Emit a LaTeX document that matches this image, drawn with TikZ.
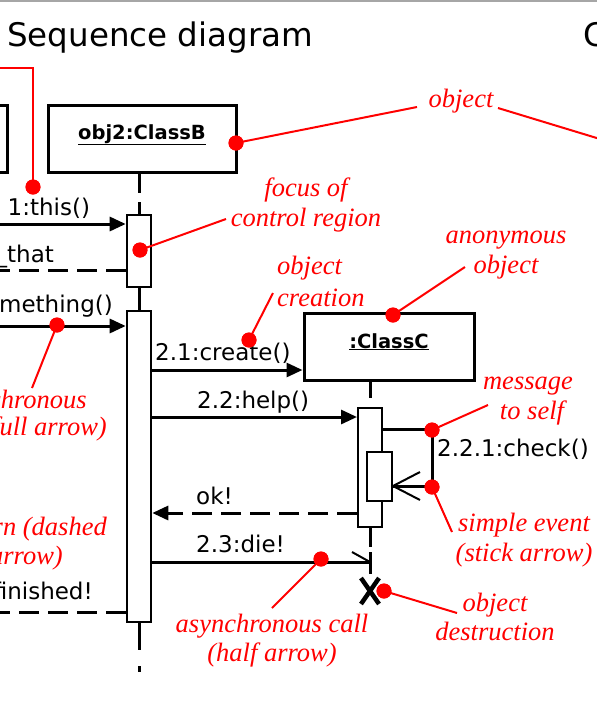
\documentclass[tikz,border=0pt]{standalone}
\usepackage{fontspec}
\setmainfont{Liberation Serif}
\newfontfamily\sansf{DejaVu Sans}
\usetikzlibrary{arrows.meta,calc}
\begin{document}
\begin{tikzpicture}[x=1pt,y=-1pt,
  lbl/.style={font=\sansf\fontsize{23}{23}\selectfont, inner sep=0pt},
  boxlbl/.style={font=\sansf\bfseries\fontsize{19.5}{20}\selectfont, inner sep=0pt},
  titlef/.style={font=\sansf\fontsize{32.5}{33}\selectfont, inner sep=0pt},
  note/.style={font=\itshape\fontsize{26.5}{30}\selectfont, text=red, inner sep=0pt},
  blk/.style={line width=3pt},
  objbox/.style={draw, line width=3pt, fill=white, inner sep=0pt},
  actbox/.style={draw, line width=2.6pt, fill=white, inner sep=0pt, minimum width=24pt},
  actthin/.style={draw, line width=2pt, fill=white, inner sep=0pt},
  ann/.style={red, line width=2pt},
  rdot/.style={circle, fill=red, minimum size=15pt, inner sep=0pt},
  call/.style={blk, -{Triangle[length=16pt,width=14pt]}},
  ret/.style={blk, dash pattern=on 20pt off 9pt},
  life/.style={line width=3pt}
]
\clip (0,0) rectangle (597,716);
\fill[white] (0,0) rectangle (597,716);
\draw[gray!70, line width=2pt] (0,1) -- (597,1);

% title
\node[titlef, anchor=base west] (title) at (7,46) {Sequence diagram};
\node[titlef, anchor=base west] (title2) at (583,46) {C};

% left object box (cut)
\draw[blk] (-10,105) -- (7,105) -- (7,172) -- (-10,172);

% objects
\node[objbox, minimum width=188pt, minimum height=67pt] (B) at (142,138.5) {};
\node[boxlbl, anchor=base] (Blbl) at (142,139) {\underline{obj2:ClassB}};

% lifeline obj2
\draw[life] (139,172) -- (139,193);
\draw[life] (139,202) -- (139,216);
\draw[life] (139,286) -- (139,312);
\draw[life] (139,621) -- (139,650);
\draw[life] (139,666) -- (139,672);

% activation boxes obj2
\node[actbox, minimum height=72pt] (A1) at (139,251) {};
\node[actbox, minimum height=311pt] (A2) at (139,466.5) {};

% ClassC
\node[objbox, minimum width=170pt, minimum height=67pt] (C) at (389,346.5) {};
\node[boxlbl, anchor=base] (Clbl) at (389,348) {\underline{:ClassC}};
\draw[life] (370,380) -- (370,398);
\draw[life] (370,526) -- (370,547);
\draw[life] (370,552) -- (370,574);
\node[actthin, minimum width=24pt, minimum height=119pt] (A3) at (370,467.5) {};
\node[actthin, minimum width=25pt, minimum height=49pt] (A4) at (379.5,476.5) {};

% destruction X
\coordinate (Xc) at (370,591);
\draw[line width=4.5pt] ($(Xc)+(-9,-13)$) -- ($(Xc)+(9,13)$);
\draw[line width=4.5pt] ($(Xc)+(9,-13)$) -- ($(Xc)+(-9,13)$);

% message coordinates
\coordinate (m1) at (-5,224);
\coordinate (m2) at (-5,270);
\coordinate (m3) at (-5,326);
\coordinate (m4) at (0,370);
\coordinate (m5) at (0,417);
\coordinate (m6) at (0,429);
\coordinate (m6a) at (432,429);
\coordinate (m6b) at (432,486);
\coordinate (m7) at (0,513);
\coordinate (m8) at (0,562);
\coordinate (m8e) at (370,562);
\coordinate (m9) at (-5,612);

\draw[call] (m1) -- (A1.west |- m1);
\draw[ret] (A1.west |- m2) -- (m2);
\draw[call] (m3) -- (A2.west |- m3);
\draw[call] (A2.east |- m4) -- (C.west |- m4);
\draw[call] (A2.east |- m5) -- (A3.west |- m5);
\draw[blk] (A3.east |- m6) -- (m6a) -- (m6b) -- (A4.east |- m6b);
\draw[line width=2pt] ($(A4.east |- m6b)+(27,-14)$) -- (A4.east |- m6b) -- ($(A4.east |- m6b)+(27,14)$);
\draw[ret, -{Triangle[length=16pt,width=14pt]}] (A3.west |- m7) -- (A2.east |- m7);
\draw[blk] (A2.east |- m8) -- (m8e);
\draw[line width=2pt] ($(m8e)+(-18,-10)$) -- (m8e);
\draw[ret] (A2.west |- m9) -- (m9);

% message labels
\node[lbl, anchor=base west] (t1) at (7.5,215) {1:this()};
\node[lbl, anchor=base west] (t2) at (-4.5,262) {\_that};
\node[lbl, anchor=base east] (t3) at (113,312) {something()};
\node[lbl, anchor=base west] (t4) at (155,360) {2.1:create()};
\node[lbl, anchor=base west] (t5) at (197,408) {2.2:help()};
\node[lbl, anchor=base west] (t6) at (437,456) {2.2.1:check()};
\node[lbl, anchor=base west] (t7) at (196,504) {ok!};
\node[lbl, anchor=base west] (t8) at (196,552) {2.3:die!};
\node[lbl, anchor=base east] (t9) at (93,599) {finished!};

% red notes
\node[note, anchor=base] (nObj) at (461,107) {object};
\node[note, anchor=base] (nF1) at (306,196) {focus of};
\node[note, anchor=base] (nF2) at (306,226) {control region};
\node[note, anchor=base west] (nC1) at (277,274) {object};
\node[note, anchor=base west] (nC2) at (277,306) {creation};
\node[note, anchor=base] (nA1) at (506,243) {anonymous};
\node[note, anchor=base] (nA2) at (506,273) {object};
\node[note, anchor=base] (nM1) at (528,389) {message};
\node[note, anchor=base] (nM2) at (532,419) {to self};
\node[note, anchor=base] (nE1) at (524,531) {simple event};
\node[note, anchor=base] (nE2) at (524,561) {(stick arrow)};
\node[note, anchor=base] (nD1) at (495,611) {object};
\node[note, anchor=base] (nD2) at (495,640) {destruction};
\node[note, anchor=base] (nH1) at (272,632) {asynchronous call};
\node[note, anchor=base] (nH2) at (272,661) {(half arrow)};
\node[note, anchor=base east] (nS1) at (87,408) {synchronous};
\node[note, anchor=base east] (nS2) at (107,435) {(full arrow)};
\node[note, anchor=base east] (nR1) at (107,535) {return (dashed};
\node[note, anchor=base east] (nR2) at (63,564) {arrow)};

% annotation dots
\node[rdot] (d0) at (33,187) {};
\node[rdot] (dB) at (236,143) {};
\node[rdot] (dF) at (140,250) {};
\node[rdot] (dS) at (57,325) {};
\node[rdot] (dCr) at (249,340) {};
\node[rdot] (dAn) at (393,315) {};
\node[rdot] (dM) at (432,430) {};
\node[rdot] (dE) at (432,487) {};
\node[rdot] (dAs) at (321,559) {};
\node[rdot] (dX) at (384,591) {};

% annotation lines
\coordinate (l0) at (-5,68);
\coordinate (l0b) at (33,68);
\draw[ann] (l0) -- (l0b) -- (d0.center);
\draw[ann] (dB.center) -- (417,107);
\draw[ann] (498,108) -- (600,139);
\draw[ann] (dF.center) -- (226,219);
\draw[ann] (dCr.center) -- (273,293);
\draw[ann] (dAn.center) -- (465,267);
\draw[ann] (dM.center) -- (488,405);
\draw[ann] (dE.center) -- (452,532);
\draw[ann] (dAs.center) -- (272,608);
\draw[ann] (dX.center) -- (457,613);
\draw[ann] (dS.center) -- (32,388);

% redraw dots on top
\foreach \d in {d0,dB,dF,dS,dCr,dAn,dM,dE,dAs,dX} \fill[red] (\d) circle (7.5pt);
\end{tikzpicture}
\end{document}
